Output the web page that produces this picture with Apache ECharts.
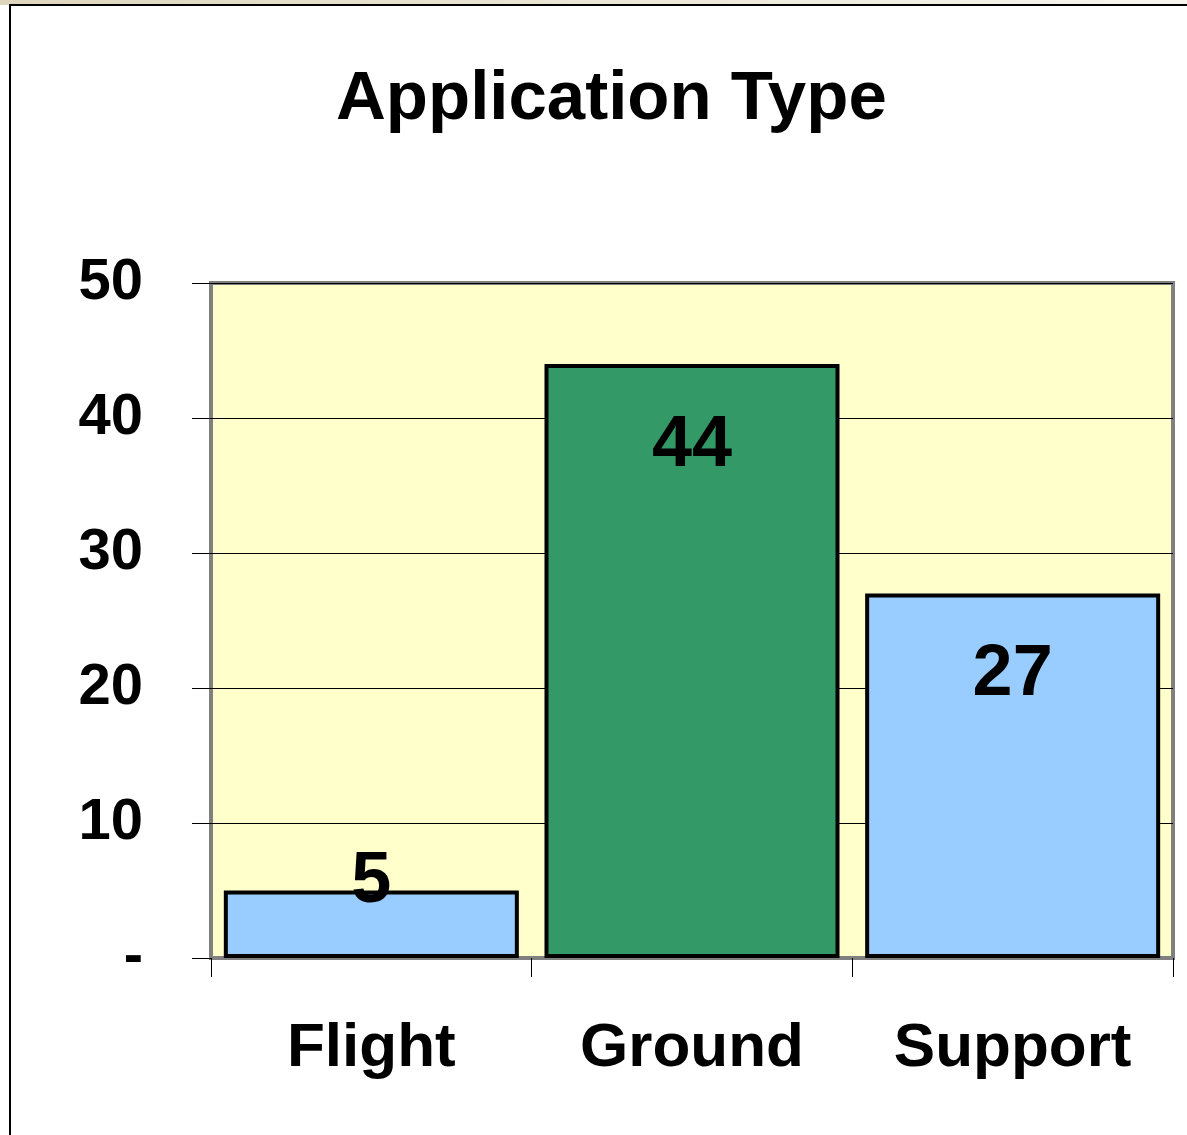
<!DOCTYPE html>
<html lang="en">
<head>
    <meta charset="UTF-8">
    <title>Application Type</title>
    <script src="https://cdn.jsdelivr.net/npm/echarts@6/dist/echarts.min.js"></script>
</head>
<style>
    body{
        margin: 0;
        padding: 0;
        background: #fff;
    }
</style>
<body>
<div id="main" style="width: 1187px;height:1135px;"></div>
<script>
    // chart data
    var categories = ['Flight', 'Ground', 'Support'];
    var counts = [5, 44, 27];
    var barColors = ['#99CCFF', '#339966', '#99CCFF'];
    var yTicks = [0, 10, 20, 30, 40, 50];

    var FONT = '"Liberation Sans", Arial, sans-serif';

    var barData = [];
    for (var i = 0; i < counts.length; i++) {
        var item = {
            value: counts[i],
            itemStyle: {color: barColors[i]}
        };
        // short bar: label sits on top edge like the original
        if (counts[i] < 10) {
            item.label = {position: 'top', distance: -28};
        }
        barData.push(item);
    }

    var chart = echarts.init(document.getElementById('main'));
    var option = {
        backgroundColor: '#ffffff',
        animation: false,
        title: {
            text: 'Application Type',
            left: 331,
            top: 60,
            textStyle: {
                fontFamily: FONT,
                fontWeight: 'bold',
                fontSize: 69,
                color: '#000'
            }
        },
        graphic: [
            {
                type: 'rect',
                shape: {x: 0, y: 0, width: 1187, height: 5},
                style: {
                    fill: new echarts.graphic.LinearGradient(0, 0, 1, 0, [
                        {offset: 0, color: '#DED6BC'},
                        {offset: 1, color: '#F7F5EE'}
                    ])
                },
                silent: true
            },
            {
                type: 'rect',
                shape: {x: 10, y: 5, width: 1300, height: 1300},
                style: {fill: null, stroke: '#000', lineWidth: 2},
                silent: true
            }
        ],
        grid: {
            left: 211,
            right: 14,
            top: 283,
            bottom: 177,
            show: true,
            backgroundColor: '#FFFFCC',
            borderColor: '#808080',
            borderWidth: 4
        },
        xAxis: {
            type: 'category',
            data: categories,
            axisLine: {lineStyle: {color: '#808080', width: 2}},
            axisTick: {show: true, length: 19, lineStyle: {color: '#000', width: 1}},
            axisLabel: {
                margin: 60,
                fontFamily: FONT,
                fontWeight: 'bold',
                fontSize: 62,
                color: '#000'
            }
        },
        yAxis: {
            type: 'value',
            min: yTicks[0],
            max: yTicks[yTicks.length - 1],
            interval: 10,
            axisLine: {show: false},
            axisTick: {show: true, length: 19, lineStyle: {color: '#000', width: 1}},
            splitLine: {lineStyle: {color: '#000', width: 1}},
            axisLabel: {
                margin: 68,
                fontFamily: FONT,
                fontWeight: 'bold',
                fontSize: 58,
                color: '#000',
                formatter: function (v) {
                    return v === 0 ? '-' : v;
                }
            }
        },
        series: [{
            type: 'bar',
            data: barData,
            barCategoryGap: '8%',
            itemStyle: {borderColor: '#000', borderWidth: 4},
            label: {
                show: true,
                position: 'insideTop',
                distance: 46,
                fontFamily: FONT,
                fontWeight: 'bold',
                fontSize: 72,
                color: '#000'
            }
        }]
    };
    chart.setOption(option);
</script>
</body>
</html>
